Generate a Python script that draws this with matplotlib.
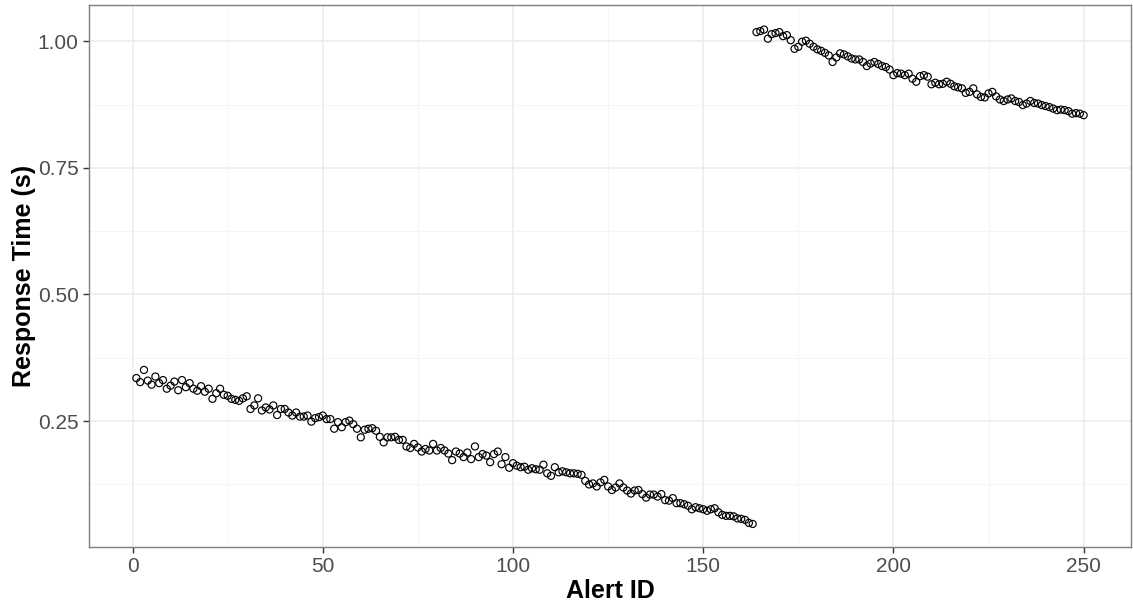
import numpy as np
import matplotlib
matplotlib.use("Agg")
import matplotlib.pyplot as plt

plt.rcParams['font.family'] = ['Liberation Sans', 'DejaVu Sans']

# 响应时间数据 (第一段: 1-163, 第二段: 164-250)
times_a = [
    0.335, 0.327, 0.351, 0.330, 0.322, 0.338, 0.325, 0.331, 0.314, 0.320,
    0.328, 0.311, 0.331, 0.317, 0.325, 0.314, 0.310, 0.319, 0.308, 0.314,
    0.294, 0.305, 0.314, 0.302, 0.300, 0.294, 0.292, 0.290, 0.295, 0.299,
    0.274, 0.281, 0.295, 0.271, 0.277, 0.273, 0.281, 0.262, 0.274, 0.274,
    0.267, 0.261, 0.267, 0.259, 0.259, 0.261, 0.249, 0.256, 0.258, 0.261,
    0.254, 0.254, 0.235, 0.248, 0.238, 0.248, 0.251, 0.244, 0.235, 0.218,
    0.233, 0.235, 0.236, 0.231, 0.219, 0.208, 0.218, 0.218, 0.219, 0.213,
    0.213, 0.200, 0.197, 0.205, 0.198, 0.190, 0.195, 0.192, 0.205, 0.192,
    0.197, 0.192, 0.186, 0.173, 0.190, 0.186, 0.179, 0.188, 0.175, 0.200,
    0.179, 0.185, 0.182, 0.169, 0.185, 0.190, 0.165, 0.179, 0.158, 0.167,
    0.162, 0.159, 0.160, 0.154, 0.157, 0.155, 0.154, 0.164, 0.147, 0.142,
    0.159, 0.149, 0.151, 0.149, 0.147, 0.147, 0.146, 0.144, 0.132, 0.125,
    0.127, 0.121, 0.129, 0.134, 0.121, 0.114, 0.119, 0.127, 0.119, 0.113,
    0.107, 0.113, 0.114, 0.106, 0.099, 0.105, 0.105, 0.101, 0.106, 0.094,
    0.093, 0.098, 0.088, 0.088, 0.086, 0.083, 0.076, 0.080, 0.078, 0.076,
    0.073, 0.076, 0.078, 0.070, 0.065, 0.063, 0.063, 0.062, 0.058, 0.057,
    0.055, 0.049, 0.047,
]
times_b = [
    1.018, 1.020, 1.023, 1.005, 1.014, 1.016, 1.018, 1.010, 1.012, 1.002,
    0.985, 0.989, 0.999, 1.001, 0.995, 0.989, 0.984, 0.981, 0.977, 0.972,
    0.959, 0.968, 0.976, 0.974, 0.970, 0.966, 0.964, 0.964, 0.959, 0.951,
    0.956, 0.959, 0.955, 0.951, 0.949, 0.944, 0.933, 0.937, 0.936, 0.933,
    0.936, 0.926, 0.920,
    0.931, 0.933, 0.930, 0.915, 0.918, 0.915, 0.916, 0.920, 0.916, 0.911,
    0.909, 0.907, 0.898, 0.900, 0.907, 0.895, 0.890, 0.889, 0.897, 0.900,
    0.891, 0.885, 0.882, 0.885, 0.887, 0.882, 0.880, 0.874, 0.877, 0.882,
    0.878, 0.877, 0.874, 0.872, 0.870, 0.867, 0.864, 0.865, 0.864, 0.862,
    0.857, 0.858, 0.857, 0.854,
]
response = np.array(times_a + times_b)
alert_id = np.arange(1, len(response) + 1)

x_ticks = [0, 50, 100, 150, 200, 250]
y_ticks = [0.25, 0.50, 0.75, 1.00]
y_labels = ['0.25', '0.50', '0.75', '1.00']


def draw():
    fig = plt.figure(figsize=(11.33, 6.11), dpi=100)
    ax = fig.add_axes([89 / 1133, 1 - 547 / 611, (1131 - 89) / 1133, (547 - 5) / 611])

    # 网格 (ggplot theme_bw 风格)
    ax.set_xticks([25, 75, 125, 175, 225], minor=True)
    ax.set_yticks([0.125, 0.375, 0.625, 0.875], minor=True)
    ax.grid(True, which='major', color='#EBEBEB', linewidth=1.1)
    ax.grid(True, which='minor', color='#F4F4F4', linewidth=0.6)
    ax.set_axisbelow(True)

    ax.scatter(alert_id, response, s=26, facecolors='none', edgecolors='black', linewidths=0.85)

    ax.set_xlim(-11.45, 262.45)
    ax.set_ylim(0.0015, 1.0715)
    ax.set_xticks(x_ticks)
    ax.set_yticks(y_ticks)
    ax.set_yticklabels(y_labels)

    for s in ax.spines.values():
        s.set_color('#7F7F7F')
        s.set_linewidth(1.0)
    ax.tick_params(which='major', length=4.5, width=1, color='#333333',
                   labelsize=15, labelcolor='#4D4D4D', pad=3)
    ax.tick_params(which='minor', length=0)

    ax.set_xlabel('Alert ID', fontsize=18, fontweight='bold', labelpad=2)
    ax.set_ylabel('Response Time (s)', fontsize=18, fontweight='bold', labelpad=1)

    plt.savefig('out.png', dpi=100)


if __name__ == '__main__':
    draw()
